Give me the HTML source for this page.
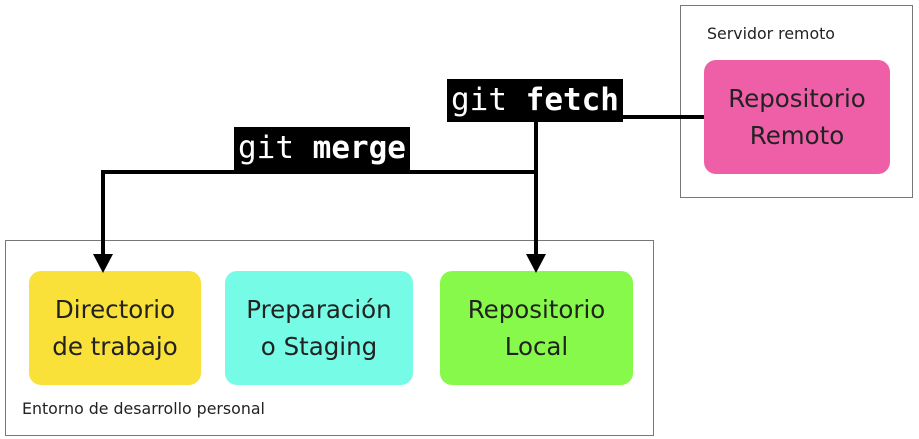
<!DOCTYPE html>
<html><head><style>
body{margin:0;width:919px;height:439px;background:#fff;position:relative;overflow:hidden;font-family:"DejaVu Sans","Liberation Sans",sans-serif;}
.b{position:absolute;box-sizing:border-box;}
.n{position:absolute;border-radius:12px;display:flex;align-items:center;justify-content:center;text-align:center;font-size:24.5px;line-height:37px;color:#222;}
.l{position:absolute;background:#000;color:#fff;font-family:"DejaVu Sans Mono","Liberation Mono",monospace;font-size:31px;line-height:43px;padding:0 4px;white-space:pre;}
.s{position:absolute;font-size:15.8px;color:#222;}
</style></head><body>
<div class="b" style="left:680px;top:5px;width:233px;height:193px;border:1px solid #777;"></div>
<div class="b" style="left:5px;top:240px;width:649px;height:196px;border:1px solid #777;"></div>
<div class="s" style="left:707px;top:24px;">Servidor remoto</div>
<div class="s" style="left:22px;top:399px;">Entorno de desarrollo personal</div>
<div class="n" style="left:704px;top:60px;width:186px;height:114px;background:#ef5fa7;">Repositorio<br>Remoto</div>
<div class="n" style="left:29px;top:271px;width:172px;height:114px;background:#f9e13a;">Directorio<br>de trabajo</div>
<div class="n" style="left:225px;top:271px;width:188px;height:114px;background:#76fbe7;">Preparación<br>o Staging</div>
<div class="n" style="left:440px;top:271px;width:193px;height:114px;background:#87f94a;">Repositorio<br>Local</div>
<svg width="919" height="439" style="position:absolute;left:0;top:0">
<g stroke="#000" stroke-width="4" fill="none">
<line x1="600" y1="117" x2="704" y2="117"/>
<line x1="536" y1="110" x2="536" y2="258"/>
<line x1="103" y1="172" x2="538" y2="172"/>
<line x1="103" y1="170" x2="103" y2="258"/>
</g>
<polygon points="526,254 546,254 536,273" fill="#000"/>
<polygon points="93,254 113,254 103,273" fill="#000"/>
</svg>
<div class="l" style="left:447px;top:79px;height:43px;">git <b>fetch</b></div>
<div class="l" style="left:234px;top:127px;height:43px;">git <b>merge</b></div>
</body></html>
